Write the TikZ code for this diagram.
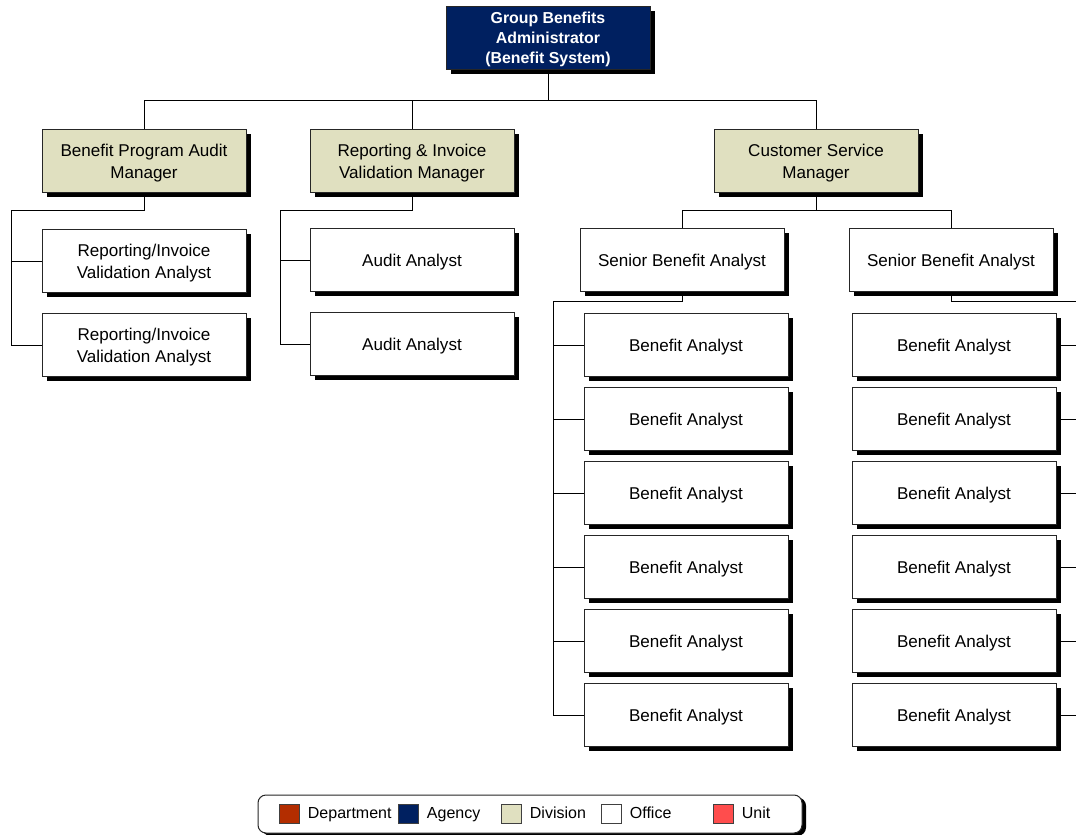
\documentclass[tikz,border=0pt]{standalone}
\usepackage{fontspec}
\setmainfont{Liberation Sans}
\usetikzlibrary{positioning,shadows,backgrounds}
\definecolor{agencyblue}{HTML}{002060}
\definecolor{divisiontan}{HTML}{E0E0C0}
\definecolor{departmentred}{HTML}{B32D00}
\definecolor{unitred}{HTML}{FF4D4D}
\tikzset{
  post/.style={draw=black!85, line width=0.75pt, fill=white, minimum width=153pt,
    minimum height=47.25pt, inner sep=0pt, align=center, text depth=0pt,
    drop shadow={shadow xshift=3.6pt, shadow yshift=-3.6pt, opacity=1, fill=black}},
  agencypost/.style={post, fill=agencyblue, text=white, font=\bfseries\fontsize{11.9}{15}\selectfont},
  divisionpost/.style={post, fill=divisiontan},
  link/.style={line width=0.75pt},
  swatch/.style={draw=black!75, line width=0.6pt, minimum width=15pt, minimum height=14.25pt, inner sep=0pt},
  legendtext/.style={right=6.2pt of #1, inner sep=0pt, text height=8.6pt, text depth=2.4pt,
    font=\fontsize{12}{14}\selectfont}
}
\begin{document}
\begin{tikzpicture}[x=0.75pt, y=-0.75pt, every node/.style={font=\fontsize{12.8}{16.3}\selectfont}]
\useasboundingbox (0,0) rectangle (1076,835);
\node[agencypost] (gba) at (548,38) {Group Benefits\\Administrator\\(Benefit System)};
\node[divisionpost] (bpam) at (144,161) {Benefit Program Audit\\Manager};
\node[divisionpost] (rivm) at (412,161) {Reporting \& Invoice\\Validation Manager};
\node[divisionpost] (csm) at (816,161) {Customer Service\\Manager};
\node[post] (riva1) at (144,261) {Reporting/Invoice\\Validation Analyst};
\node[post] (riva2) at (144,345) {Reporting/Invoice\\Validation Analyst};
\node[post] (aa1) at (412,260) {Audit Analyst};
\node[post] (aa2) at (412,344) {Audit Analyst};
\node[post] (sba1) at (682,260) {Senior Benefit Analyst};
\node[post] (sba2) at (951,260) {Senior Benefit Analyst};
\node[post] (ba11) at (686,345) {Benefit Analyst};
\node[post] (ba12) at (686,419) {Benefit Analyst};
\node[post] (ba13) at (686,493) {Benefit Analyst};
\node[post] (ba14) at (686,567) {Benefit Analyst};
\node[post] (ba15) at (686,641) {Benefit Analyst};
\node[post] (ba16) at (686,715) {Benefit Analyst};
\node[post] (ba21) at (954,345) {Benefit Analyst};
\node[post] (ba22) at (954,419) {Benefit Analyst};
\node[post] (ba23) at (954,493) {Benefit Analyst};
\node[post] (ba24) at (954,567) {Benefit Analyst};
\node[post] (ba25) at (954,641) {Benefit Analyst};
\node[post] (ba26) at (954,715) {Benefit Analyst};
\coordinate (topbus) at (548,100);
\coordinate (bpamj) at (11,210);
\coordinate (rivmj) at (280,210);
\coordinate (csmj) at (816,210);
\coordinate (sba1j) at (553,301);
\coordinate (sba2j) at (1090,301);
\begin{scope}[on background layer]
\draw[link] (gba.south) -- (topbus);
\draw[link] (bpam.north) |- (topbus);
\draw[link] (rivm.north) |- (topbus);
\draw[link] (csm.north) |- (topbus);
\draw[link] (bpam.south) |- (bpamj);
\draw[link] (bpamj) |- (riva1.west);
\draw[link] (bpamj) |- (riva2.west);
\draw[link] (rivm.south) |- (rivmj);
\draw[link] (rivmj) |- (aa1.west);
\draw[link] (rivmj) |- (aa2.west);
\draw[link] (csm.south) -- (csmj);
\draw[link] (csmj) -| (sba1.north);
\draw[link] (csmj) -| (sba2.north);
\draw[link] (sba1.south) |- (sba1j);
\draw[link] (sba1j) |- (ba11.west);
\draw[link] (sba1j) |- (ba12.west);
\draw[link] (sba1j) |- (ba13.west);
\draw[link] (sba1j) |- (ba14.west);
\draw[link] (sba1j) |- (ba15.west);
\draw[link] (sba1j) |- (ba16.west);
\draw[link] (sba2.south) |- (sba2j);
\draw[link] (sba2j) |- (ba21.east);
\draw[link] (sba2j) |- (ba22.east);
\draw[link] (sba2j) |- (ba23.east);
\draw[link] (sba2j) |- (ba24.east);
\draw[link] (sba2j) |- (ba25.east);
\draw[link] (sba2j) |- (ba26.east);
\end{scope}
\node[draw=black!85, line width=0.75pt, fill=white, rounded corners=6pt, minimum width=408pt,
  minimum height=28.5pt, drop shadow={shadow xshift=3pt, shadow yshift=-2pt, opacity=1, fill=black}] (legend) at (530,814) {};
\node[swatch, fill=departmentred] (sdep) at (289,814) {};
\node[legendtext=sdep] (tdep) {Department};
\node[swatch, fill=agencyblue] (sage) at (408,814) {};
\node[legendtext=sage] (tage) {Agency};
\node[swatch, fill=divisiontan] (sdiv) at (511,814) {};
\node[legendtext=sdiv] (tdiv) {Division};
\node[swatch, fill=white] (soff) at (611,814) {};
\node[legendtext=soff] (toff) {Office};
\node[swatch, fill=unitred] (suni) at (723,814) {};
\node[legendtext=suni] (tuni) {Unit};
\end{tikzpicture}
\end{document}
